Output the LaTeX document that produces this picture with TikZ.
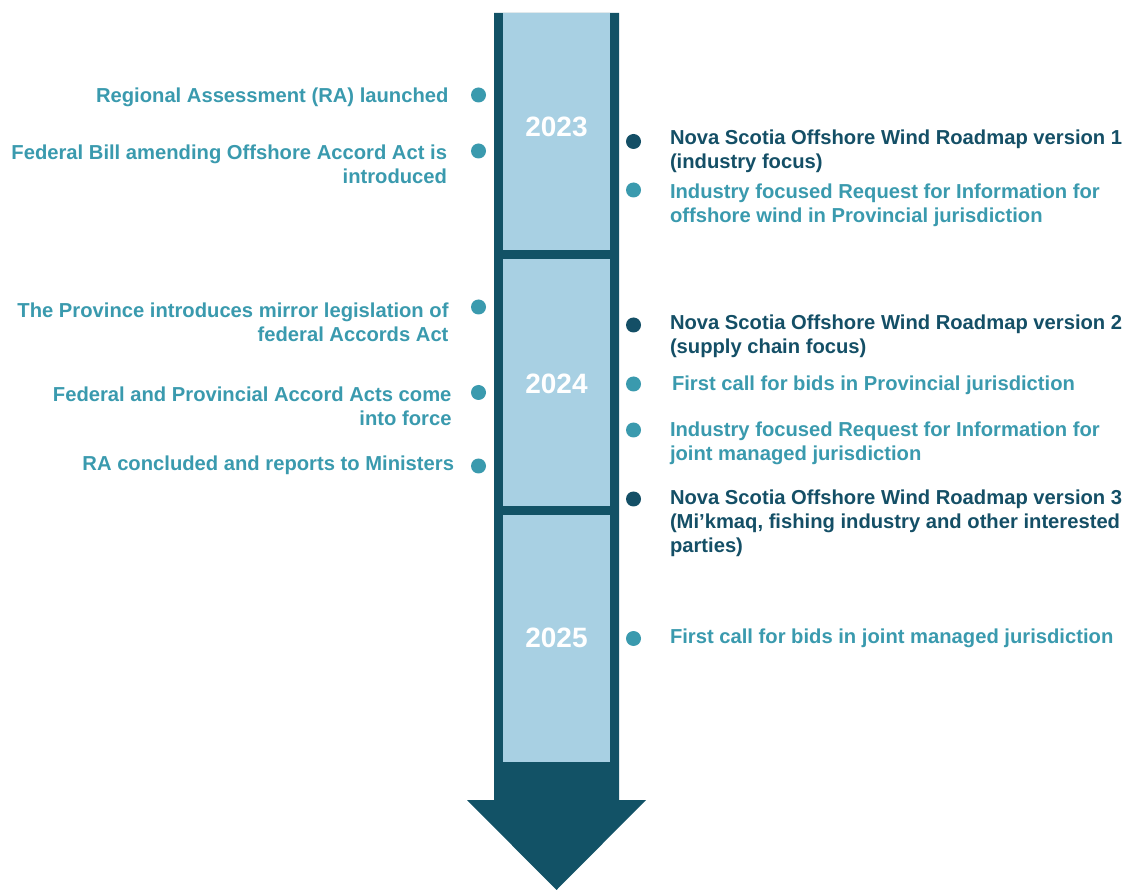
\documentclass[tikz,border=0pt]{standalone}
\usepackage{fontspec}
\setmainfont{Liberation Sans}
\definecolor{arrowdark}{HTML}{125266}
\definecolor{panel}{HTML}{A8D0E3}
\definecolor{tealtxt}{HTML}{3A9AAE}
\definecolor{darktxt}{HTML}{144F66}
\tikzset{
  txt/.style={font=\bfseries\fontsize{20.2}{24}\selectfont, inner sep=0pt, outer sep=0pt},
  lefttxt/.style={txt, text=tealtxt, anchor=base east, align=right},
  righttxt/.style={txt, text=tealtxt, anchor=base west, align=left},
  rightdark/.style={txt, text=darktxt, anchor=base west, align=left},
  dotlight/.style={circle, fill=tealtxt, minimum size=15pt, inner sep=0pt},
  dotdark/.style={circle, fill=darktxt, minimum size=15pt, inner sep=0pt},
  panelbox/.style={fill=panel, draw=none},
  yearlbl/.style={font=\bfseries\fontsize{28}{32}\selectfont, text=white, anchor=base, inner sep=0pt}
}
\begin{document}
\begin{tikzpicture}[x=1pt,y=-1pt]
\useasboundingbox (0,0) rectangle (1128,890);
% arrow
\fill[arrowdark] (494,13) -- (619,13) -- (619,800) -- (646,800) -- (556.5,890) -- (467,800) -- (494,800) -- cycle;
\fill[panelbox] (503,13) rectangle (610,250);
\fill[panelbox] (503,259) rectangle (610,506.5);
\fill[panelbox] (503,515) rectangle (610,762);
% years
\node[yearlbl] (y2023) at (556.5,136.7) {2023};
\node[yearlbl] (y2024) at (556.5,393.3) {2024};
\node[yearlbl] (y2025) at (556.5,647.5) {2025};
% left dots
\node[dotlight] (ld1) at (478.5,95) {};
\node[dotlight] (ld2) at (478.5,151) {};
\node[dotlight] (ld3) at (478.5,307) {};
\node[dotlight] (ld4) at (478.5,392.5) {};
\node[dotlight] (ld5) at (478.5,466) {};
% left texts (base anchor = baseline of last line)
\node[lefttxt] (lt1) at (448.5,102.3) {Regional Assessment (RA) launched};
\node[lefttxt] (lt2) at (447,183.3) {Federal Bill amending Offshore Accord Act is\\introduced};
\node[lefttxt] (lt3) at (448.5,341.5) {The Province introduces mirror legislation of\\federal Accords Act};
\node[lefttxt] (lt4) at (451.5,425.7) {Federal and Provincial Accord Acts come\\into force};
\node[lefttxt] (lt5) at (454,470.5) {RA concluded and reports to Ministers};
% right dots
\node[dotdark] (rd1) at (633.5,141.5) {};
\node[dotlight] (rd2) at (633.5,190) {};
\node[dotdark] (rd3) at (633.5,325) {};
\node[dotlight] (rd4) at (633.5,384) {};
\node[dotlight] (rd5) at (633.5,430) {};
\node[dotdark] (rd6) at (633.5,499) {};
\node[dotlight] (rd7) at (633.5,638.5) {};
% right texts
\node[rightdark] (rt1) at (670,168.3) {Nova Scotia Offshore Wind Roadmap version 1\\(industry focus)};
\node[righttxt] (rt2) at (670,222.5) {Industry focused Request for Information for\\offshore wind in Provincial jurisdiction};
\node[rightdark] (rt3) at (670,353.3) {Nova Scotia Offshore Wind Roadmap version 2\\(supply chain focus)};
\node[righttxt] (rt4) at (672,390.7) {First call for bids in Provincial jurisdiction};
\node[righttxt] (rt5) at (670,460.7) {Industry focused Request for Information for\\joint managed jurisdiction};
\node[rightdark] (rt6) at (670,552.3) {Nova Scotia Offshore Wind Roadmap version 3\\(Mi’kmaq, fishing industry and other interested\\parties)};
\node[righttxt] (rt7) at (670,643.3) {First call for bids in joint managed jurisdiction};
\end{tikzpicture}
\end{document}
